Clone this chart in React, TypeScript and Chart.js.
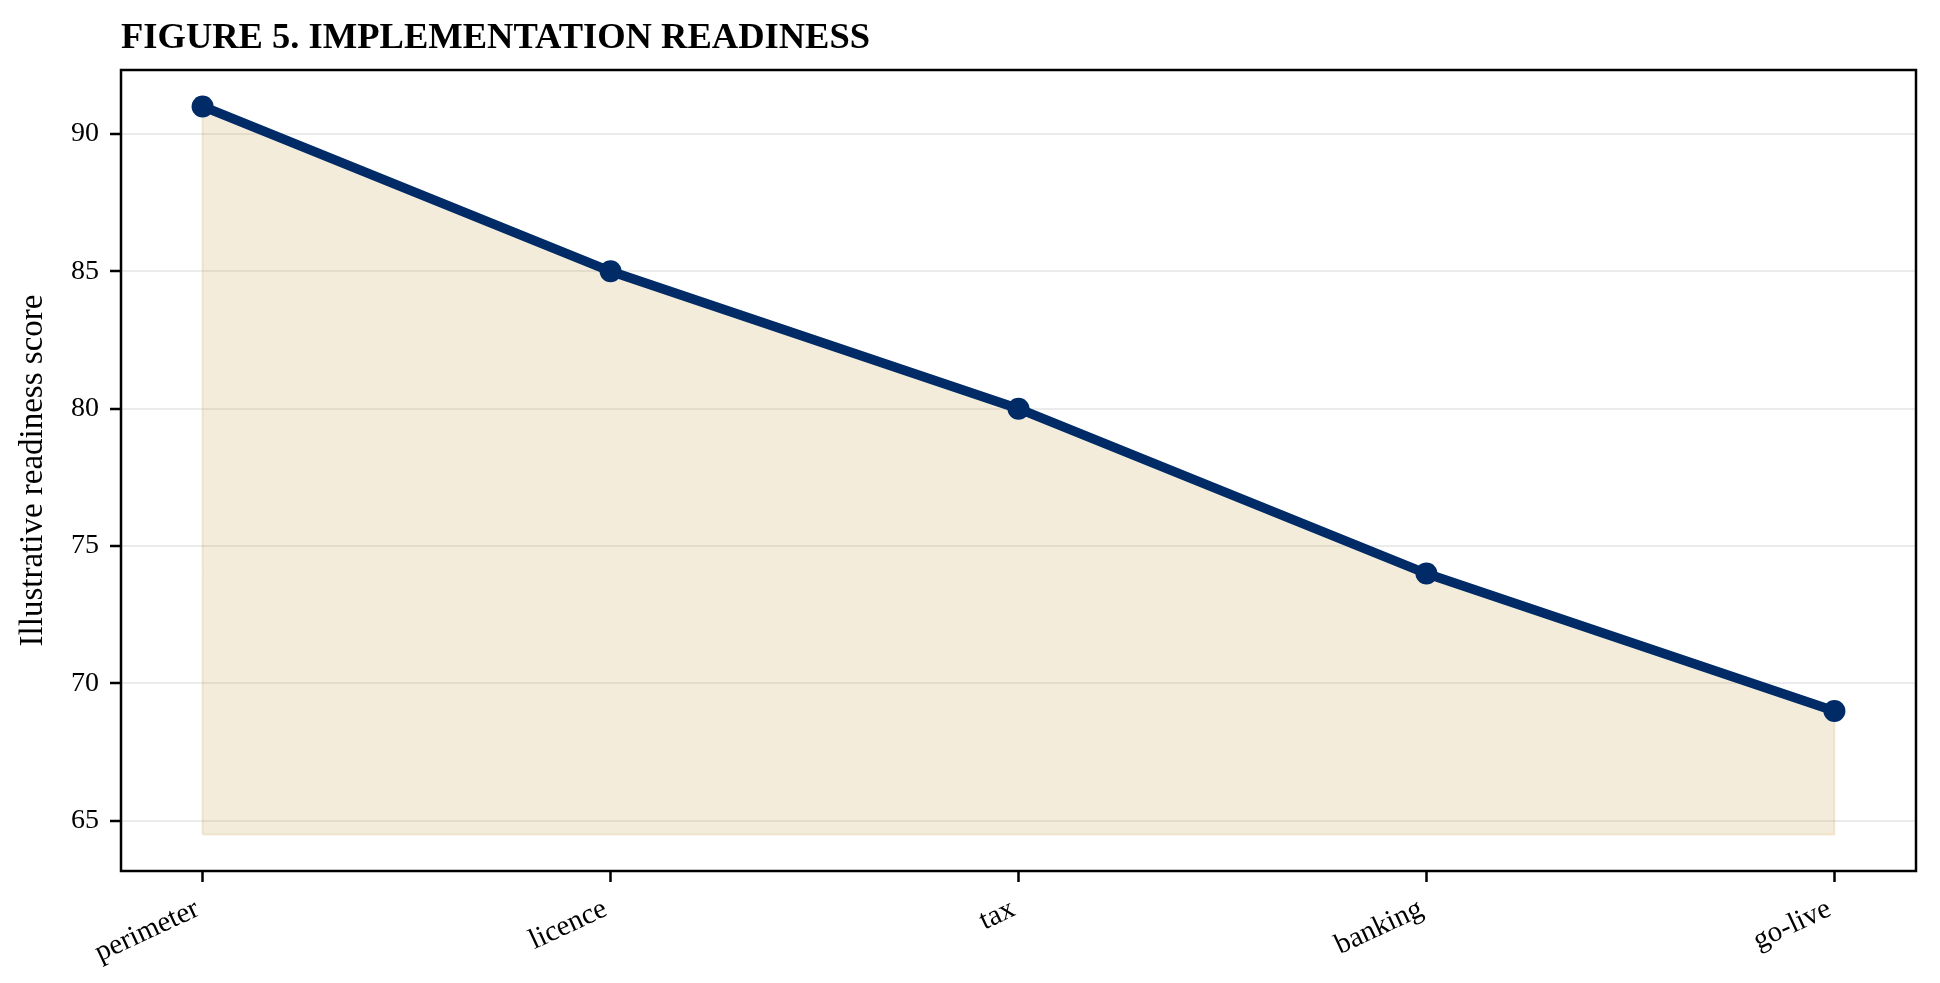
import { useEffect, useRef } from 'react';
import { Chart, registerables, Plugin } from 'chart.js';

Chart.register(...registerables);

const categories = ['perimeter', 'licence', 'tax', 'banking', 'go-live'];
const scores = [91, 85, 80, 74, 69];
const fillBase = 64.5;
const yTicks = [65, 70, 75, 80, 85, 90];

const titleText = 'FIGURE 5. IMPLEMENTATION READINESS';
const yLabel = 'Illustrative readiness score';

const NAVY = '#002b66';
const SAND = 'rgba(201, 162, 75, 0.2)';
const SERIF = "'Liberation Serif', 'Times New Roman', serif";

// title + full frame around the plot area, like matplotlib spines
const framePlugin: Plugin<'line'> = {
  id: 'frame',
  afterDraw(chart) {
    const { ctx, chartArea } = chart;
    ctx.save();
    ctx.strokeStyle = '#000';
    ctx.lineWidth = 2.5;
    ctx.strokeRect(chartArea.left, chartArea.top, chartArea.right - chartArea.left, chartArea.bottom - chartArea.top);
    ctx.fillStyle = '#000';
    ctx.font = `bold 36.5px ${SERIF}`;
    ctx.textAlign = 'left';
    ctx.textBaseline = 'alphabetic';
    ctx.fillText(titleText, chartArea.left, 48);
    ctx.restore();
  },
};

export default function App() {
  const canvasRef = useRef<HTMLCanvasElement>(null);

  useEffect(() => {
    if (!canvasRef.current) return;

    const lo = Math.min(fillBase, ...scores);
    const hi = Math.max(...scores);
    const pad = (hi - lo) * 0.05;

    const linePoints = scores.map((v, i) => ({ x: i, y: v }));
    const last = scores.length - 1;
    const areaPoints = [
      { x: 0, y: fillBase },
      ...linePoints,
      { x: last, y: fillBase },
      { x: 0, y: fillBase },
    ];

    const chart = new Chart(canvasRef.current, {
      type: 'line',
      data: {
        datasets: [
          {
            data: areaPoints,
            borderColor: SAND,
            backgroundColor: SAND,
            borderWidth: 2,
            pointRadius: 0,
            fill: 'shape',
            tension: 0,
            order: 2,
          },
          {
            data: linePoints,
            borderColor: NAVY,
            backgroundColor: NAVY,
            borderWidth: 9.5,
            pointRadius: 11,
            pointBackgroundColor: NAVY,
            pointBorderColor: NAVY,
            pointBorderWidth: 0,
            fill: false,
            tension: 0,
            order: 1,
          },
        ],
      },
      options: {
        animation: false,
        responsive: true,
        maintainAspectRatio: false,
        layout: { padding: { top: 70, right: 24, left: 0, bottom: 0 } },
        plugins: {
          legend: { display: false },
          tooltip: { enabled: false },
          title: { display: false },
        },
        scales: {
          x: {
            type: 'linear',
            min: -0.2,
            max: last + 0.2,
            afterBuildTicks: (scale) => {
              scale.ticks = categories.map((_, i) => ({ value: i }));
            },
            afterFit: (scale) => {
              scale.height = 112;
            },
            grid: {
              display: true,
              drawOnChartArea: false,
              drawTicks: true,
              tickLength: 11,
              tickColor: '#000',
              tickWidth: 2.5,
            },
            border: { display: false },
            ticks: {
              autoSkip: false,
              minRotation: 25,
              maxRotation: 25,
              padding: 10,
              labelOffset: -5,
              color: '#000',
              font: { family: SERIF, size: 29 },
              callback: (v) => categories[Number(v)] ?? '',
            },
          },
          y: {
            min: lo - pad,
            max: hi + pad,
            afterBuildTicks: (scale) => {
              scale.ticks = yTicks.map((v) => ({ value: v }));
            },
            afterFit: (scale) => {
              scale.width = 121;
            },
            grid: {
              color: '#ebebeb',
              lineWidth: 2,
              drawTicks: true,
              tickLength: 11,
              tickColor: '#000',
              tickWidth: 2.5,
            },
            border: { display: false },
            ticks: {
              padding: 11,
              color: '#000',
              font: { family: SERIF, size: 28 },
            },
            title: {
              display: true,
              text: yLabel,
              color: '#000',
              font: { family: SERIF, size: 33 },
              padding: { top: 14, bottom: 0 },
            },
          },
        },
      },
      plugins: [framePlugin],
    });

    return () => {
      chart.destroy();
    };
  }, []);

  return (
    <div style={{ position: 'fixed', left: 0, top: 0, width: 1940, height: 983, background: '#fff' }}>
      <canvas ref={canvasRef}></canvas>
    </div>
  );
}
